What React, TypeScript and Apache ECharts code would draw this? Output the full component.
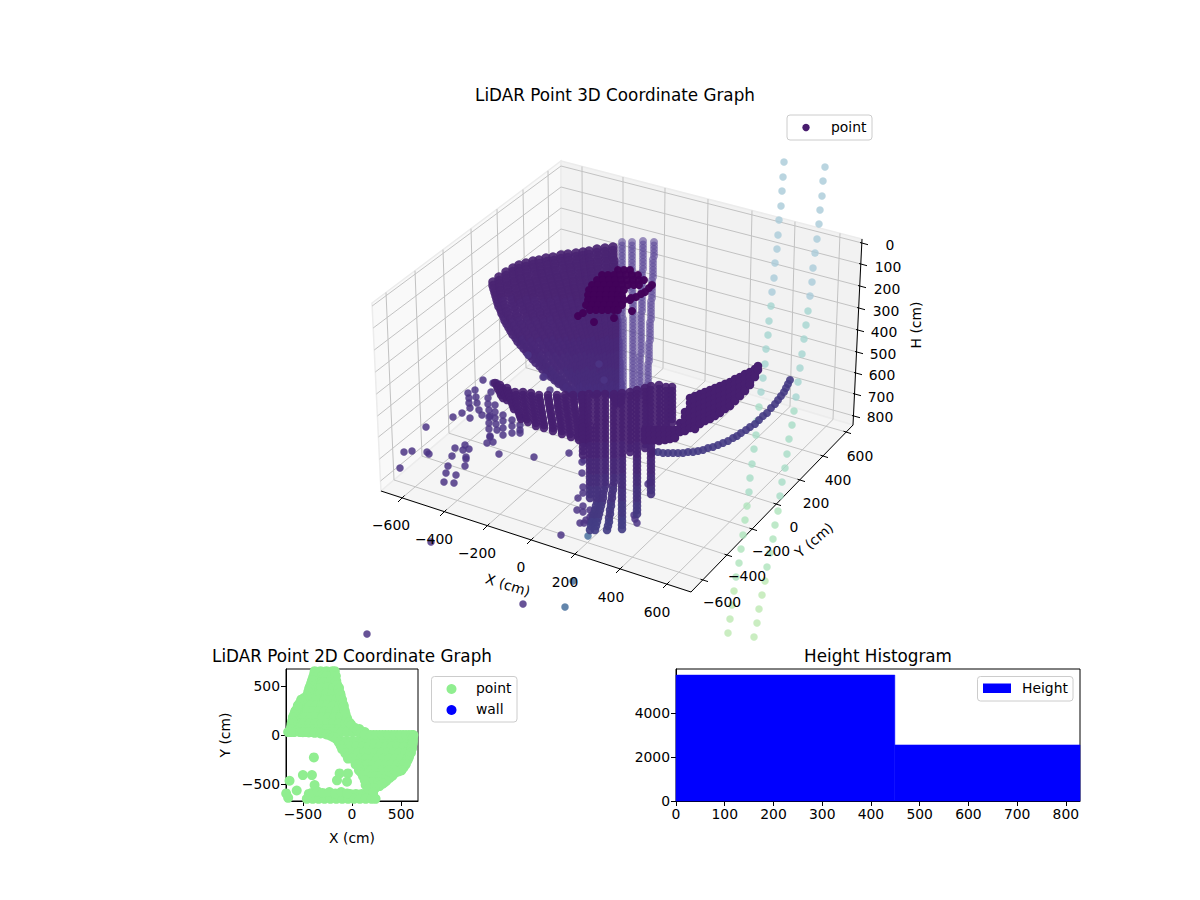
import React, { useEffect, useRef } from "react";
import * as echarts from "echarts";

/* ---------- shared text ---------- */
const titles = ["LiDAR Point 3D Coordinate Graph", "LiDAR Point 2D Coordinate Graph", "Height Histogram"];
const xTicks3D = [-600, -400, -200, 0, 200, 400, 600];
const yTicks3D = [-600, -400, -200, 0, 200, 400, 600];
const hTicks3D = [0, 100, 200, 300, 400, 500, 600, 700, 800];

/* ---------- 3D panel: ECharts has no 3D axes here, so every 3D mark is given as
   its projected view-plane reading [u, v] on one hidden cartesian grid ---------- */
const teal1: number[][] = [[784,162],[783,177],[782,191],[781,206],[779,220],[778,235],[777,249],[775,263],[774,278],[772,292],[771,306],[769,321],[768,335],[766,349],[765,364],[763,378],[761,392],[759,407],[757,421],[756,435],[754,449],[752,464],[750,478],[749,492],[747,506],[745,520],[743,535],[741,549],[739,563],[736,577],[734,591],[732,605],[730,619],[728,633]];
const teal2: number[][] = [[825,167],[823,181],[822,196],[820,210],[819,224],[817,239],[815,253],[813,268],[812,282],[810,296],[808,311],[806,325],[804,339],[802,354],[800,368],[798,382],[796,397],[794,411],[792,425],[789,439],[787,454],[785,468],[782,482],[780,496],[778,511],[775,525],[773,539],[770,553],[767,567],[765,581],[762,595],[759,609],[757,623],[754,637]];

// upper fan: [first v, v step, u of each scan row]
const upperFan: [number, number, number[]][] = [
  [282,3.5,[493,493,494,495,496,497,498,499,501,502,504,505,507,509,511,513,516,518,521,524,527,530,533,536,540,543,547,551,555,559,564,569,574]],
  [277,3.5,[499,499,500,500,501,501,502,503,505,506,507,509,511,513,515,517,519,521,523,525,528,531,534,537,540,543,546,549,552,556,560,564,568,571,575]],
  [272,3.5,[506,506,507,507,508,508,509,510,512,513,514,515,517,518,520,522,524,526,528,530,532,534,537,539,542,544,547,550,553,555,558,561,564,567,571]],
  [268,3.5,[513,513,514,514,515,515,516,517,518,519,521,522,524,525,527,528,530,532,534,536,538,540,543,545,548,550,553,555,558,561,564,567,570,573,576,579,582]],
  [265,3.5,[519,519,520,520,521,522,523,524,525,526,527,528,530,531,533,534,536,538,540,542,544,546,548,550,553,555,557,559,562,565,568,570,573,576,579,581,584]],
  [263,3.5,[526,526,527,527,528,529,530,531,532,533,534,535,537,538,540,541,543,544,546,548,550,552,554,556,558,560,563,565,567,569,572,574,577,579,582,584,587]],
  [261,3.5,[533,533,534,535,536,536,537,538,539,540,542,543,544,545,547,548,550,551,553,555,557,558,560,562,564,566,568,570,572,574,576,578,580,582,585,587,590,592,594]],
  [260,3.5,[539,540,541,541,542,543,544,545,546,547,548,549,551,552,554,555,557,558,560,561,563,564,566,568,570,571,573,575,577,579,581,583,585,587,589,591,593,595,597]],
  [258,3.5,[546,547,548,548,549,550,551,552,553,554,555,556,558,559,560,561,563,564,566,567,569,570,572,573,575,576,578,580,582,583,585,587,589,590,592,594,596,598,600]],
  [257,3.5,[553,554,555,555,556,557,558,559,560,561,562,563,564,565,567,568,569,570,572,573,575,576,578,579,581,582,584,585,587,588,590,592,594,595,597,598,600,602,604]],
  [255,3.5,[561,561,562,563,564,564,565,566,567,568,569,570,571,572,573,574,575,576,578,579,580,581,583,584,585,586,588,589,591,592,594,595,597,598,600,601,603,604,606]],
  [254,3.5,[568,568,569,570,571,571,572,573,574,574,575,576,577,578,579,580,581,582,583,584,586,587,588,589,590,591,593,594,595,596,598,599,600,601,603,604,606,607,608,609,611]],
  [253,3.5,[576,576,577,577,578,579,580,580,581,581,582,583,584,584,585,586,587,588,589,590,591,591,592,593,594,595,596,597,598,599,600,601,602,603,604,605,606,607,608,609,611]],
  [252,3.5,[583,583,584,584,585,585,586,586,587,588,589,589,590,590,591,592,593,593,594,595,596,596,597,598,599,600,601,601,602,603,604,605,606,606,607,608,609,610,611,612,613]],
  [251,3.5,[589,589,590,590,591,591,592,592,593,593,594,594,595,596,597,597,598,598,599,599,600,601,602,602,603,603,604,605,606,606,607,607,608,609,610,610,611,611,612,613,614,614,615]],
  [249,3.5,[597,597,598,598,598,598,599,599,600,600,601,601,602,602,603,603,604,604,605,605,606,606,607,607,608,608,609,609,610,610,611,611,612,612,612,612,613,613,614,614,615,615,616,616,617]],
  [248,3.5,[605,605,606,606,606,606,607,607,608,608,608,609,609,609,610,610,610,611,611,611,612,612,612,613,613,613,614,614,614,615,615,615,616,616,616,617,617,617,618,618,618,619,619,619,620]],
  [247,3.5,[613,613,613,613,614,614,614,614,614,615,615,615,615,615,615,616,616,616,616,616,616,617,617,617,617,617,617,618,618,618,618,618,618,619,619,619,619,619,619,620,620,620,620,620,620]],
];
const upperFanRight: [number, number, number[]][] = [
  [242,3.5,[622,622,622,622,622,622,622,622,622,622,622,622,622,622,622,622,622,622,622,622,622,622,623,623,623,623,623,623,623,623,623,623,623,623,623,623,623,623,623,623,623,623,623,623,623]],
  [242,3.5,[632,632,632,632,632,632,632,632,632,632,632,632,632,632,632,633,633,633,633,633,633,633,633,633,633,633,633,633,633,633,633,633,633,633,633,633,633,633,633,633,633,633,633,633,633]],
  [241,3.5,[643,643,643,643,643,643,643,643,643,642,642,642,642,642,642,642,642,642,642,642,642,641,641,641,641,641,641,641,641,641,641,641,641,640,640,640,640,640,640,640,640,640,640,640,640]],
  [242,3.5,[654,654,654,654,654,653,653,653,653,653,653,652,652,652,652,652,652,651,651,651,651,651,651,650,650,650,650,650,650,649,649,649,649,649,649,648,648,648,648,648,648,647,647,647,647,647,647]],
];
const cluster: number[][] = [
  [618,270],[624,270],[630,270],
  [602,275],[608,275],[614,275],[620,275],[626,275],[632,275],[638,275],
  [597,280],[603,280],[609,280],[615,280],[621,280],[627,280],[633,280],[639,280],[644,280],
  [592,285],[598,285],[604,285],[610,285],[616,285],[622,285],[628,285],[634,285],[639,285],
  [589,290],[595,290],[601,290],[607,290],[613,290],[619,290],[624,290],
  [588,295],[594,295],[600,295],[606,295],[612,295],[618,295],[622,296],
  [588,300],[594,300],[600,300],[606,300],[612,300],[618,300],[624,300],[630,300],
  [586,305],[592,305],[598,305],[604,305],[610,305],[616,305],[622,305],
  [590,310],[596,310],[602,310],[608,310],[614,310],[618,310],
  [652,285],[649,288],[645,292],[641,294],[636,297],[631,298],
  [578,316],[583,313],[594,322],[614,318],[632,311],
];
const lowerFan: [number, number, number[]][] = [
  [383,3,[495,497,498,500,501,503]],
  [385,3,[500,502,503,505,506,507]],
  [388,3,[507,508,509,510,511,512,513,514]],
  [392,3,[515,516,516,517,517,518,518,519,520,521]],
  [392,3,[523,523,524,524,525,525,526,526,527,527,528]],
  [393,3,[531,531,532,532,533,533,534,534,535,535,536,536]],
  [395,3,[539,539,540,540,541,541,542,542,543,543,544,544]],
  [395,3,[548,548,549,549,550,550,551,551,552,552,553,553,553]],
  [395,3,[557,557,558,558,558,559,559,560,560,561,561,561,562,562]],
  [395,3,[565,565,566,566,566,567,567,568,568,569,569,569,570,570,571]],
  [395,3,[573,573,574,574,574,575,575,576,576,577,577,577,578,578,578,579]],
  [395,3,[582,582,582,583,583,583,584,584,584,584,585,585,585,586,586,586,586]],
  [395,4,[583,583,583,583,583,583,583,583,583,583,583,583,583,583,583,583]],
  [394,4,[589,589,589,589,589,589,589,589,590,590,590,590,590,590,590,590,590,590,590,590,590,590,590,590,590,590,590]],
  [394,4,[597,597,597,597,597,597,597,597,597,597,597,597,597,597,597,597,597,597,597,597,597,597,597,597,597,597,597,597,596,595,594,593,592,591,590]],
  [394,4,[605,605,605,605,605,605,605,605,605,605,605,605,605,605,605,605,605,605,605,605,605,605,605,605,604,603,603,602,601,600,599,598,597,596,595]],
  [394,4,[614,614,614,614,614,614,614,614,614,614,614,614,614,614,614,614,614,614,614,614,614,614,614,613,613,612,612,611,611,610,610,609,609,608,607]],
  [393,4,[622,622,622,622,622,622,622,622,622,622,622,622,622,622,622,622,622,622,622,622,622,622,622,622,622,622,622,622,622,622,622,622,622,622,622]],
  [392,4,[630,630,630,630,630,630,630,630,630,630,630,630,630,630,630,630]],
  [390,4,[637,637,637,637,637,637,637,637,637,637,637,637,637,637,637,637,637,637,637,637,637,637,637,637,637,637,637,637,637,637,637,637]],
  [388,4,[645,645,645,645,645,645,645,645,645,645,645,645,645,645,645,645]],
  [386,4,[651,651,651,651,651,651,651,651,651,651,651,651,651,651,651,651,651,651,651,651,651,651,651,651,651,651,651,651]],
  [385,4,[659,659,659,659,659,659,659,659,659,659,659,659,659,659,659]],
  [387,4,[666,666,666,666,666,666,666,666,666,666,666,666,666,666]],
  [387,4,[672,672,672,672,672,672,672,672,672,672]],
];
// wedge right of the hanging columns: [u, v readings]
const wedgeCols: [number, number[]][] = [
  [645,[430,435,440]],[650,[430,435,440]],[655,[430,435,440]],[660,[430,435,440]],[665,[430,435,440]],
  [670,[430,435,439]],[675,[430,435,438]],[680,[423,428,432]],[685,[412,417,422,427,431]],
  [690,[398,403,408,413,418,423,428]],[695,[396,401,406,411,416,421,426,429]],[700,[394,399,404,409,414,419,424]],
  [705,[392,397,402,407,412,417,421]],[710,[390,395,400,405,410,415,419]],[715,[388,393,398,403,408,413,416]],
  [720,[386,391,396,401,406,411,413]],[725,[384,389,394,399,404,409]],[730,[382,387,392,397,402,406]],
  [735,[379,384,389,394,399,401]],[740,[377,382,387,392,396]],[745,[374,379,384,389,391]],
  [750,[372,377,382,385]],[755,[369,374,377]],[758,[366,370]],
];
const lowerArc: number[][] = [[790,380],[788,384],[786,388],[784,392],[781,396],[778,400],[775,404],[771,408],[767,413],[763,416],[759,420],[755,424],[750,427],[746,430],[741,433],[737,436],[733,438],[728,441],[723,443],[718,445],[713,447],[708,448],[703,450],[698,451],[693,452],[688,452],[683,453],[678,453],[673,453],[668,453],[663,453],[658,452],[653,452]];
const strayPoints: number[][] = [
  [468,393],[469,398],[469,403],[470,408],[470,418],[475,390],[476,397],[477,403],[479,410],[482,415],
  [488,398],[488,404],[489,410],[490,416],[491,392],[495,405],[495,412],[495,418],[496,424],[497,430],
  [489,417],[489,423],[489,429],[490,436],[503,415],[503,421],[503,428],[503,435],[512,420],[512,426],[512,433],
  [520,425],[520,430],[520,433],[522,418],[453,417],[462,413],[426,427],[487,443],[493,442],[490,437],
  [465,445],[455,448],[463,450],[469,449],[466,457],[466,459],[427,452],[429,454],[404,452],[412,451],[452,456],
  [448,466],[465,466],[446,473],[456,475],[444,482],[454,483],[400,468],[499,454],[534,457],[569,453],
  [483,380],[493,383],[497,383],[543,377],[550,390],[561,535],[431,542],[523,604],[367,634],[528,355],[599,364],[604,380],[544,377],
  [582,462],[584,460],[582,473],[583,487],[583,493],[578,498],[577,510],[583,506],[583,512],[580,523],[584,523],[590,510],[590,517],
  [634,515],[635,519],[637,523],[650,482],[648,484],[592,515],[590,522],[594,523],[586,520],
];
const bluePoints: number[][] = [[573,581],[565,607],[588,536],[578,435]];

/* ---------- 2D panel: [Y, X readings in the row] (cm) ---------- */
const scanRows: [number, number[]][] = [
  [650,[-380,-320,-260,-200]],
  [600,[-380,-320,-260,-200,-165]],
  [540,[-408,-348,-288,-228,-168]],
  [480,[-432,-372,-312,-252,-192,-133]],
  [420,[-442,-382,-322,-262,-202,-142,-119]],
  [360,[-517,-457,-397,-337,-277,-217,-157,-102]],
  [300,[-551,-491,-431,-371,-311,-251,-191,-131,-85]],
  [240,[-578,-518,-458,-398,-338,-278,-218,-158,-98,-75]],
  [180,[-602,-542,-482,-422,-362,-302,-242,-182,-122,-62]],
  [120,[-612,-552,-492,-432,-372,-312,-252,-192,-132,-72,-20]],
  [60,[-619,-559,-499,-439,-379,-319,-259,-199,-139,-79,-19,41,75]],
  [30,[-650,-590,-530,-470,-410,-350,-290,-230,-170,-110,-50,10,70,130]],
  [0,[100,160,220,280,340,400,460,520,580,625]],
  [-60,[-126,-66,-6,54,114,174,234,294,354,414,474,534,594,620]],
  [-120,[-75,-15,45,105,165,225,285,345,405,465,525,585,608]],
  [-180,[-58,2,62,122,182,242,302,362,422,482,542,595]],
  [-240,[-41,19,79,139,199,259,319,379,439,499,559,572]],
  [-300,[37,97,157,217,277,337,397,457,517,545]],
  [-360,[71,131,191,251,311,371,431,491,503]],
  [-420,[112,172,232,292,352,405]],
  [-480,[146,206,266,333]],
  [-540,[180,235]],
  [-600,[-440,-380,-320,-260,-200,-140,-80,-20,40,100,160,214]],
  [-650,[-460,-400,-340,-280,-220,-160,-100,-40,20,80,140,200,240]],
];
const isolated2D: number[][] = [[-388,-228],[-500,-408],[-408,-408],[-636,-466],[-563,-565],[-670,-595],[-153,-462],[-126,-391],[-41,-391],[-51,-476],[-381,-510],[-650,-640]];
const boundary2D: number[][] = [
  [-385,620],[-395,590],[-405,560],[-415,530],[-425,500],[-435,470],[-445,440],[-460,400],[-490,375],[-515,350],[-535,320],[-550,290],[-565,260],[-578,235],[-590,205],[-600,175],[-608,145],[-615,115],[-620,85],[-622,60],[-625,30],
  [-175,650],[-170,600],[-160,550],[-150,510],[-135,470],[-125,430],[-115,400],[-105,360],[-95,320],[-85,290],[-75,250],[-65,210],[-50,170],[-30,130],[-5,100],[25,75],[55,50],[90,25],[130,5],
  [190,0],[250,0],[310,0],[370,0],[430,0],[490,0],[550,0],[610,0],
  [-500,28],[-440,26],[-380,22],[-320,15],[-260,5],[-220,-8],[-190,-22],[-160,-41],[-135,-75],[-115,-110],[-100,-145],[-68,-187],[-40,-215],[0,-240],[34,-262],[55,-300],[75,-345],[95,-385],[119,-408],[130,-460],[139,-510],[165,-550],
  [620,-30],[617,-90],[612,-136],[600,-180],[581,-221],[565,-260],[547,-296],[525,-330],[503,-357],[475,-370],[445,-381],[415,-410],[380,-440],[350,-466],[315,-495],[280,-520],[231,-544],[215,-580],
  [-410,-590],[-350,-575],[-300,-590],[-230,-580],[-170,-595],[-110,-580],[-50,-595],
];
const ticks2D = [-500, 0, 500];

/* ---------- histogram ---------- */
const histBins: number[][] = [[0, 449, 5750], [449, 829, 2560]];
const histXTicks = [0, 100, 200, 300, 400, 500, 600, 700, 800];
const histYTicks = [0, 2000, 4000];

/* ---------- 3D box (view-plane) ---------- */
const panes: number[][] = [
  [372,303,561,161,561,338,381,491],
  [561,161,862,239,853,425,561,338],
  [381,491,561,338,853,425,691,592],
];
const paneFill = ["#f9f9f9", "#f2f2f2", "#f5f5f5"];
const leftTopU = [386,415,443,471,497,523,548];
const leftBotU = [394,422,449,476,501,526,550];
const yEdgeTicks = [[703,580],[727,555],[752,529],[776,504],[800,480],[823,456],[846,432]];
const backTopU = [582,623,665,708,752,795,840];
const backBotU = [583,623,663,705,748,790,833];
const xEdgeTicks = [[402,498],[444,512],[487,526],[531,540],[575,554],[620,569],[667,584]];
const hEdgeTicks = [[862,243],[861,264],[860,286],[859,308],[858,330],[857,352],[856,373],[855,394],[854,416]];
const hBackV = [166,187,208,229,250,270,291,312,333];
const hLeftV = [306,328,350,372,394,416,437,459,481];

const xLabelPos = [[391,525],[434,539],[477,553],[521,567],[565,582],[611,597],[657,612]];
const yLabelPos = [[722,602],[747,576],[771,551],[794,527],[816,503],[838,480],[860,456]];
const hLabelPos = [[890,245],[888,267],[887,289],[886,311],[884,332],[883,354],[882,375],[881,397],[880,417]];

// colour steps by screen depth: [upper limit of v, colour]
const fanShades: [number, string][] = [[300,"#4a2472"],[320,"#4a2574"],[340,"#4a2675"],[355,"#492777"],[370,"#492978"],[385,"#482b7a"],[999,"#482d7c"]];
const lowShades: [number, string][] = [[445,"#471f70"],[460,"#472373"],[475,"#462876"],[490,"#452d7a"],[505,"#45327d"],[520,"#443880"],[999,"#433d84"]];
const shade = (table: [number, string][]) => (p: any) => table.find(([lim]) => p.data[1] < lim)![1];

const expand = (cols: [number, number, number[]][]) =>
  cols.flatMap(([v0, dv, us]) => us.map((u, i) => [u, v0 + dv * i]));

const minus = (n: number) => String(n).replace("-", "\u2212");
const FONT = '"DejaVu Sans"';

function buildGrid3D() {
  const gridSegs: number[][] = [];
  leftTopU.forEach((u, i) => {
    const top = 303 - (u - 372) * 0.751;
    const b = leftBotU[i];
    const bot = 491 - (b - 381) * 0.85;
    gridSegs.push([u, top, b, bot]);
    gridSegs.push([b, bot, yEdgeTicks[i][0], yEdgeTicks[i][1]]);
  });
  backTopU.forEach((u, i) => {
    const top = 161 + (u - 561) * 0.259;
    const b = backBotU[i];
    const bot = 338 + (b - 561) * 0.2995;
    gridSegs.push([u, top, b, bot]);
    gridSegs.push([b, bot, xEdgeTicks[i][0], xEdgeTicks[i][1]]);
  });
  hEdgeTicks.forEach((p, i) => {
    const lv = hLeftV[i];
    gridSegs.push([372 + (lv - 303) * 0.048, lv, 561, hBackV[i]]);
    gridSegs.push([561, hBackV[i], p[0], p[1]]);
  });
  const axisSegs: number[][] = [
    [381,491,691,592],[691,592,853,425],[862,239,853,425],
  ];
  xEdgeTicks.forEach(([u, v]) => axisSegs.push([u + 2.5, v - 2.5, u - 4, v + 4]));
  yEdgeTicks.forEach(([u, v]) => axisSegs.push([u - 2.5, v - 0.8, u + 5, v + 1.6]));
  hEdgeTicks.forEach(([u, v]) => axisSegs.push([u - 2, v - 0.5, u + 6, v + 1.7]));
  return { gridSegs, axisSegs };
}

const segSeries = (data: number[][], stroke: string, width: number, z: number) => ({
  type: "custom", xAxisIndex: 0, yAxisIndex: 0, silent: true, z, data,
  renderItem: (_: any, api: any) => {
    const a = api.coord([api.value(0), api.value(1)]);
    const b = api.coord([api.value(2), api.value(3)]);
    return { type: "line", shape: { x1: a[0], y1: a[1], x2: b[0], y2: b[1] }, style: { stroke, lineWidth: width } };
  },
});

const dots = (name: string, data: number[][], color: any, opacity: number, size: number, z: number) => ({
  type: "scatter", name, xAxisIndex: 0, yAxisIndex: 0, silent: true, z, data,
  symbolSize: size, itemStyle: { color, opacity },
});

const txt = (text: string, x: number, y: number, size = 13.9, rotation = 0, align = "center") => ({
  type: "text", x, y, rotation, z: 200, silent: true,
  style: { text, font: `${size}px ${FONT}`, fill: "#000", textAlign: align, textVerticalAlign: "middle", align, verticalAlign: "middle" },
});
const box = (x: number, y: number, width: number, height: number) => ({
  type: "rect", z: 150, silent: true, shape: { x, y, width, height, r: 3 },
  style: { fill: "rgba(255,255,255,0.85)", stroke: "#cccccc", lineWidth: 1 },
});
const dot = (cx: number, cy: number, r: number, fill: string) => ({
  type: "circle", z: 160, silent: true, shape: { cx, cy, r }, style: { fill },
});

export default function App() {
  const ref = useRef<HTMLDivElement>(null);
  useEffect(() => {
    const chart = echarts.init(ref.current!, undefined, { renderer: "svg" });
    const { gridSegs, axisSegs } = buildGrid3D();
    const tealColor = (p: any) => {
      const v = p.data[1];
      return v < 300 ? "#a9cbd8" : v < 400 ? "#a4d5d0" : v < 500 ? "#a6dcc6" : v < 580 ? "#aee3bb" : "#bde9b2";
    };
    const scatter2D: number[][] = [
      ...scanRows.flatMap(([y, xs]) => xs.map((x) => [x, y])),
      ...isolated2D,
      ...boundary2D,
    ];
    const wedge = wedgeCols.flatMap(([u, vs]) => vs.map((v) => [u, v]));
    const axisBase = {
      axisLine: { show: true, onZero: false, lineStyle: { color: "#000", width: 1 } },
      splitLine: { show: false },
    };
    const tick = (vals: number[]) => ({
      axisTick: { show: true, length: 5, customValues: vals, lineStyle: { color: "#000", width: 1 } },
      axisLabel: { show: true, customValues: vals, color: "#000", fontSize: 13.9, fontFamily: FONT, margin: 6, formatter: (v: number) => minus(v) },
    });
    const titleStyle = { fontSize: 16.8, fontWeight: "normal", color: "#000", fontFamily: FONT };
    chart.setOption({
      animation: false,
      backgroundColor: "#fff",
      title: [
        { text: titles[0], left: 615, top: 86, padding: 0, textAlign: "center", textStyle: titleStyle },
        { text: titles[1], left: 352, top: 647, padding: 0, textAlign: "center", textStyle: titleStyle },
        { text: titles[2], left: 878, top: 647, padding: 0, textAlign: "center", textStyle: titleStyle },
      ],
      grid: [
        { left: 0, top: 0, width: 1200, height: 637, show: false },
        { left: 286, top: 669, width: 132, height: 132, show: true, borderColor: "#000", borderWidth: 1, backgroundColor: "#fff" },
        { left: 676, top: 669, width: 404, height: 132, show: true, borderColor: "#000", borderWidth: 1, backgroundColor: "#fff" },
      ],
      xAxis: [
        { type: "value", gridIndex: 0, min: 0, max: 1200, show: false },
        { type: "value", gridIndex: 1, min: -672, max: 672, ...axisBase, ...tick(ticks2D), name: "X (cm)", nameLocation: "middle", nameGap: 30, nameTextStyle: { color: "#000", fontSize: 13.9, fontFamily: FONT } },
        { type: "value", gridIndex: 2, min: 0, max: 829, ...axisBase, ...tick(histXTicks) },
      ],
      yAxis: [
        { type: "value", gridIndex: 0, min: 0, max: 637, inverse: true, show: false },
        { type: "value", gridIndex: 1, min: -672, max: 672, ...axisBase, ...tick(ticks2D), name: "Y (cm)", nameLocation: "middle", nameGap: 54, nameTextStyle: { color: "#000", fontSize: 13.9, fontFamily: FONT } },
        { type: "value", gridIndex: 2, min: 0, max: 6027, ...axisBase, ...tick(histYTicks) },
      ],
      series: [
        {
          type: "custom", xAxisIndex: 0, yAxisIndex: 0, silent: true, z: 1, data: panes,
          renderItem: (p: any, api: any) => {
            const pts = [0, 2, 4, 6].map((i) => api.coord([api.value(i), api.value(i + 1)]));
            return { type: "polygon", shape: { points: pts }, style: { fill: paneFill[p.dataIndex], stroke: "#ececec", lineWidth: 1.5 } };
          },
        },
        segSeries(gridSegs, "#c2c2c2", 1, 2),
        segSeries(axisSegs, "#000000", 1, 3),
        dots("point", expand(upperFan), shade(fanShades), 0.92, 9.5, 4),
        dots("point", expand(upperFanRight), "#5b4798", 0.6, 8, 4),
        dots("point", [...teal1, ...teal2], tealColor, 0.8, 7.5, 5),
        dots("point", strayPoints, "#4c3585", 0.85, 7.5, 6),
        dots("point", bluePoints, "#5b7ea6", 0.95, 7.5, 6),
        dots("point", lowerArc, "#443a83", 0.9, 8, 6),
        dots("point", expand(lowerFan), shade(lowShades), 0.92, 8.5, 7),
        dots("point", wedge, "#471f70", 1, 8.5, 7),
        dots("point", cluster, "#42025a", 0.98, 8, 8),
        { type: "scatter", name: "point", xAxisIndex: 1, yAxisIndex: 1, silent: true, z: 3, data: scatter2D, symbolSize: 10, itemStyle: { color: "#90ee90", opacity: 1 } },
        { type: "scatter", name: "wall", xAxisIndex: 1, yAxisIndex: 1, silent: true, z: 3, data: [], symbolSize: 10, itemStyle: { color: "#0000ff" } },
        {
          type: "custom", name: "Height", xAxisIndex: 2, yAxisIndex: 2, silent: true, z: 3, data: histBins,
          renderItem: (_: any, api: any) => {
            const a = api.coord([api.value(0), api.value(2)]);
            const b = api.coord([api.value(1), 0]);
            return { type: "rect", shape: { x: a[0], y: a[1], width: b[0] - a[0], height: b[1] - a[1] }, style: { fill: "#0000ff", stroke: "#0000ff", lineWidth: 0.5 } };
          },
        },
      ],
      graphic: [
        ...xTicks3D.map((t, i) => txt(minus(t), xLabelPos[i][0], xLabelPos[i][1])),
        ...yTicks3D.map((t, i) => txt(minus(t), yLabelPos[i][0], yLabelPos[i][1])),
        ...hTicks3D.map((t, i) => txt(String(t), hLabelPos[i][0], hLabelPos[i][1])),
        txt("X (cm)", 508, 585, 13.9, -0.3),
        txt("Y (cm)", 814, 540, 13.9, 0.7),
        txt("H (cm)", 916, 325, 13.9, Math.PI / 2),
        box(787, 115, 85, 25),
        dot(806, 127.5, 3.7, "#481c6e"),
        txt("point", 831, 127, 13.9, 0, "left"),
        box(431.5, 676.5, 85.5, 45.5),
        dot(451.5, 689, 5, "#90ee90"),
        dot(451.5, 710, 5, "#0000ff"),
        txt("point", 476, 688, 13.9, 0, "left"),
        txt("wall", 476, 709, 13.9, 0, "left"),
        box(977.5, 676.5, 95.5, 24.5),
        { type: "rect", z: 160, silent: true, shape: { x: 983, y: 683.5, width: 28, height: 9.5 }, style: { fill: "#0000ff" } },
        txt("Height", 1022, 688, 13.9, 0, "left"),
      ],
    });
    return () => chart.dispose();
  }, []);
  return <div ref={ref} style={{ position: "absolute", left: 0, top: 0, width: 1200, height: 900 }} />;
}
